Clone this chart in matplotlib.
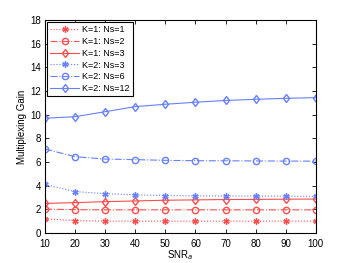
import matplotlib
matplotlib.use("Agg")
import matplotlib.pyplot as plt

snr = [10, 20, 30, 40, 50, 60, 70, 80, 90, 100]
k1_ns1 = [1.2, 1.05, 1.0, 1.0, 1.0, 1.0, 1.0, 1.0, 1.0, 1.0]
k1_ns2 = [2.02, 1.97, 1.96, 1.96, 1.96, 1.96, 1.96, 1.96, 1.96, 1.96]
k1_ns3 = [2.5, 2.57, 2.65, 2.71, 2.77, 2.8, 2.83, 2.84, 2.86, 2.87]
k2_ns3 = [4.1, 3.5, 3.33, 3.22, 3.17, 3.14, 3.13, 3.12, 3.11, 3.1]
k2_ns6 = [7.1, 6.45, 6.25, 6.2, 6.14, 6.11, 6.1, 6.09, 6.08, 6.07]
k2_ns12 = [9.7, 9.83, 10.25, 10.68, 10.88, 11.05, 11.2, 11.3, 11.38, 11.44]
labels = ["K=1: Ns=1", "K=1: Ns=2", "K=1: Ns=3", "K=2: Ns=3", "K=2: Ns=6", "K=2: Ns=12"]

red = (1.0, 0.3, 0.3)
blue = (0.4, 0.5, 1.0)

plt.rcParams['font.family'] = ['Liberation Sans', 'DejaVu Sans']
fig = plt.figure(figsize=(3.49, 2.63), dpi=100)
ax = fig.add_axes([0.129, 0.114, 0.776, 0.81])

ms = 4.5
lw = 0.8
star = (6, 2, 0)
ax.plot(snr, k1_ns1, color=red, linestyle=':', marker=star, ms=ms, mew=1.0, lw=lw, label=labels[0])
ax.plot(snr, k1_ns2, color=red, linestyle='-.', marker='o', ms=ms, lw=lw, mfc='none', label=labels[1])
ax.plot(snr, k1_ns3, color=red, linestyle='-', marker='d', ms=ms, lw=lw, mfc='none', label=labels[2])
ax.plot(snr, k2_ns3, color=blue, linestyle=':', marker=star, ms=ms, mew=1.0, lw=lw, label=labels[3])
ax.plot(snr, k2_ns6, color=blue, linestyle='-.', marker='o', ms=ms, lw=lw, mfc='none', label=labels[4])
ax.plot(snr, k2_ns12, color=blue, linestyle='-', marker='d', ms=ms, lw=lw, mfc='none', label=labels[5])

ax.set_xlim(10, 100)
ax.set_ylim(0, 18)
ax.set_xticks(snr)
ax.set_yticks(range(0, 19, 2))
ax.tick_params(direction='in', top=True, right=True, labelsize=7, length=3, width=0.6)
ax.tick_params(axis='x', pad=4)
ax.tick_params(axis='y', pad=3)
for s in ax.spines.values():
    s.set_linewidth(0.8)
ax.set_xlabel("SNR$_a$", fontsize=7, labelpad=0)
ax.set_ylabel("Multiplexing Gain", fontsize=7, labelpad=2)

leg = ax.legend(loc='upper left', fontsize=6.5, fancybox=False, edgecolor='black',
                framealpha=1, handlelength=3.2, borderaxespad=0.25, labelspacing=0.3,
                handletextpad=0.3, borderpad=0.35)
leg.get_frame().set_linewidth(0.8)

fig.savefig("out.png", dpi=100)
